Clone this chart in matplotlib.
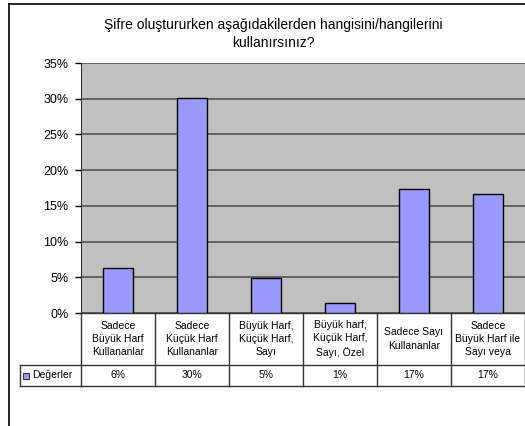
import matplotlib.pyplot as plt
import matplotlib.transforms as mtransforms
from matplotlib.lines import Line2D
from matplotlib.patches import Rectangle

plt.rcParams['font.family'] = ['Liberation Sans', 'DejaVu Sans']

title = "Şifre oluştururken aşağıdakilerden hangisini/hangilerini\nkullanırsınız?"
categories = ["Sadece\nBüyük Harf\nKullananlar",
              "Sadece\nKüçük Harf\nKullananlar",
              "Büyük Harf,\nKüçük Harf,\nSayı",
              "Büyük harf,\nKüçük Harf,\nSayı, Özel",
              "Sadece Sayı\nKullananlar",
              "Sadece\nBüyük Harf ile\nSayı veya"]
values = [6.25, 30.1, 4.9, 1.4, 17.3, 16.6]
value_labels = ["6%", "30%", "5%", "1%", "17%", "17%"]
series_name = "Değerler"
yticks = [0, 5, 10, 15, 20, 25, 30, 35]

W, H = 525, 426
fig = plt.figure(figsize=(W / 100, H / 100), dpi=100)

# outer chart border (cropped on right and bottom)
fig.add_artist(Line2D([9 / W, 9 / W], [0, 1 - 4 / H], color='black', lw=1.2))
fig.add_artist(Line2D([9 / W, 1], [1 - 4 / H, 1 - 4 / H], color='black', lw=1.2))

ax = fig.add_axes([81 / W, (H - 313) / H, (W - 81) / W, 250 / H])
ax.set_facecolor('#C0C0C0')
x = list(range(len(values)))
ax.bar(x, values, width=0.4, color='#9999FF', edgecolor='black', linewidth=1, zorder=3)
ax.set_xlim(-0.5, len(values) - 0.5)
ax.set_ylim(0, 35)
ax.set_yticks(yticks)
ax.set_yticklabels([f"{t}%" for t in yticks], fontsize=9)
ax.yaxis.grid(True, color='#4a4a4a', linewidth=1.1, zorder=1)
ax.set_axisbelow(True)
ax.set_xticks([])
ax.tick_params(axis='y', length=4, width=1, pad=5)
for s in ['top', 'right', 'bottom']:
    ax.spines[s].set_visible(False)
ax.spines['left'].set_color('#333333')

fig.text(273 / W, 1 - 34 / H, title, ha='center', va='center', fontsize=10, linespacing=1.4)

# data table under the axes
tr = mtransforms.blended_transform_factory(ax.transData, ax.transAxes)
row1 = -52 / 250
row2 = -73 / 250
lc = dict(color='#333333', lw=1, clip_on=False)
ax.plot([-0.5, len(values) - 0.5], [0, 0], transform=tr, **lc)
ax.plot([-0.5, len(values) - 0.5], [row1, row1], transform=tr, **lc)
ax.plot([-0.5, len(values) - 0.5], [row2, row2], transform=tr, **lc)
for i in range(len(values) + 1):
    ax.plot([i - 0.5, i - 0.5], [0, row2], transform=tr, **lc)
for i, (c, v) in enumerate(zip(categories, value_labels)):
    ax.text(i, row1 / 2, c, transform=tr, ha='center', va='center', fontsize=7.5, linespacing=1.4)
    ax.text(i, (row1 + row2) / 2, v, transform=tr, ha='center', va='center', fontsize=7.5)

# legend cell
lx0 = (20 - 81) / (W - 81)
ta = ax.transAxes
ax.plot([lx0, 0], [row1, row1], transform=ta, **lc)
ax.plot([lx0, 0], [row2, row2], transform=ta, **lc)
ax.plot([lx0, lx0], [row1, row2], transform=ta, **lc)
ax.add_patch(Rectangle((lx0 + 3 / (W - 81), (row1 + row2) / 2 - 3 / 250), 6 / (W - 81), 6 / 250,
                       transform=ta, facecolor='#9999FF', edgecolor='#333333', lw=0.8, clip_on=False))
ax.text(lx0 + 12 / (W - 81), (row1 + row2) / 2, series_name, transform=ta,
        ha='left', va='center', fontsize=7.5)

fig.savefig('out.png', dpi=100)
